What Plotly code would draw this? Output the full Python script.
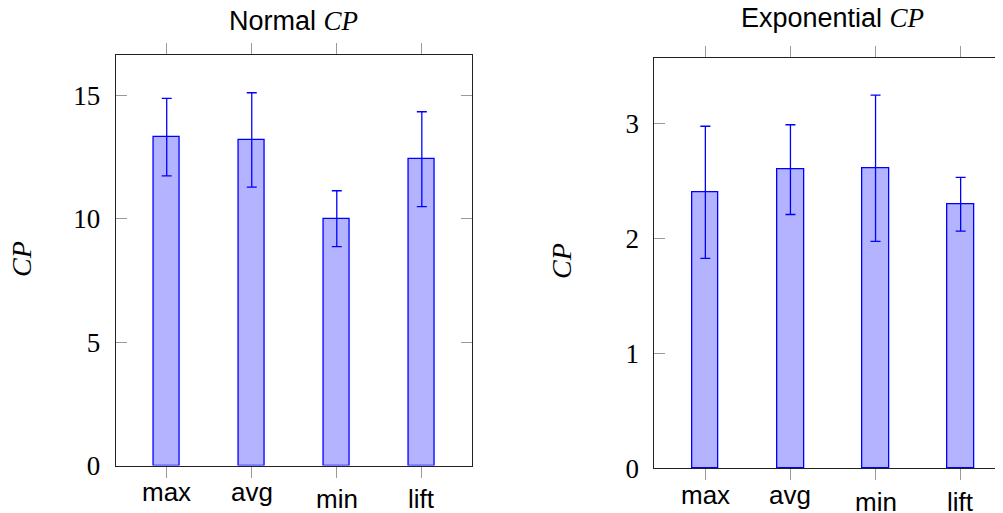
import plotly.graph_objects as go

categories = ["max", "avg", "min", "lift"]

normal_cp = [13.30, 13.19, 10.00, 12.41]
normal_err = [1.57, 1.91, 1.13, 1.92]

expo_cp = [2.40, 2.597, 2.609, 2.296]
expo_err = [0.574, 0.39, 0.636, 0.233]

normal_yticks = [0, 5, 10, 15]
expo_yticks = [0, 1, 2, 3]

W, H = 1003, 513
OFF = 8  # page body margin offset in the browser
BLUE = "#0000ff"
FILL = "#b3b3ff"
SERIF = "Liberation Serif"
SANS = "Liberation Sans"

def px_x(p):
    return (p - OFF) / W

def px_y(p):
    return 1 - (p - OFF) / H

xpos = list(range(len(categories)))

fig = go.Figure()

for vals, errs, xa, ya in [
    (normal_cp, normal_err, "x", "y"),
    (expo_cp, expo_err, "x2", "y2"),
]:
    fig.add_trace(go.Bar(
        x=xpos, y=vals, width=0.314,
        marker=dict(color=FILL, line=dict(color=BLUE, width=1.3)),
        error_y=dict(type="data", array=errs, visible=True, color=BLUE,
                     thickness=1.3, width=5),
        xaxis=xa, yaxis=ya, showlegend=False, hoverinfo="skip",
    ))

axis_common = dict(showgrid=False, zeroline=False, showline=True,
                   linecolor="#222222", linewidth=1, tickcolor="#9a9a9a",
                   tickwidth=1, automargin=False)

fig.update_layout(
    width=W, height=H,
    margin=dict(l=0, r=0, t=0, b=0, autoexpand=False),
    paper_bgcolor="white", plot_bgcolor="white",
    bargap=0,
    xaxis=dict(domain=[px_x(115.7), px_x(472.0)], range=[-0.6, 3.59],
               anchor="y", tickvals=xpos, showticklabels=False,
               ticks="outside", ticklen=11, mirror="allticks", **axis_common),
    yaxis=dict(domain=[px_y(465.5), px_y(55.0)], range=[0, 16.63],
               anchor="x", tickvals=normal_yticks, ticks="inside", ticklen=11,
               mirror="allticks", ticklabelstandoff=9,
               tickfont=dict(family=SERIF, size=27, color="black"),
               **axis_common),
    xaxis2=dict(domain=[px_x(654.3), px_x(1010.6)], range=[-0.6, 3.587],
                anchor="y2", tickvals=xpos, showticklabels=False,
                ticks="outside", ticklen=11, mirror="allticks", **axis_common),
    yaxis2=dict(domain=[px_y(468.3), px_y(58.3)], range=[0, 3.565],
                anchor="x2", tickvals=expo_yticks, ticks="inside", ticklen=11,
                mirror="allticks", ticklabelstandoff=9,
                tickfont=dict(family=SERIF, size=27, color="black"),
                **axis_common),
)

label_drop = [0, 0, 7, 7]
ann = []
for xa, ytop in [("x", 475), ("x2", 478)]:
    for i, c in enumerate(categories):
        ann.append(dict(x=xpos[i], xref=xa, y=px_y(ytop), yref="paper",
                        text=c, showarrow=False, yanchor="top",
                        xanchor="center", yshift=-label_drop[i],
                        font=dict(family=SANS, size=26, color="black")))

cp = "<span style='font-family:Liberation Serif'><i>CP</i></span>"
ann.append(dict(x=px_x(293.9), y=px_y(21), xref="paper", yref="paper",
                text="Normal " + cp, showarrow=False, xanchor="center",
                yanchor="middle",
                font=dict(family=SANS, size=27, color="black")))
ann.append(dict(x=px_x(832.5), y=px_y(18), xref="paper", yref="paper",
                text="Exponential " + cp, showarrow=False, xanchor="center",
                yanchor="middle",
                font=dict(family=SANS, size=27, color="black")))
for xc, yc in [(22, 259), (561, 261)]:
    ann.append(dict(x=px_x(xc), y=px_y(yc), xref="paper", yref="paper",
                    text="<i>CP</i>", showarrow=False, textangle=-90,
                    xanchor="center", yanchor="middle",
                    font=dict(family=SERIF, size=28, color="black")))

fig.update_layout(annotations=ann)
fig.write_html("out.html")
